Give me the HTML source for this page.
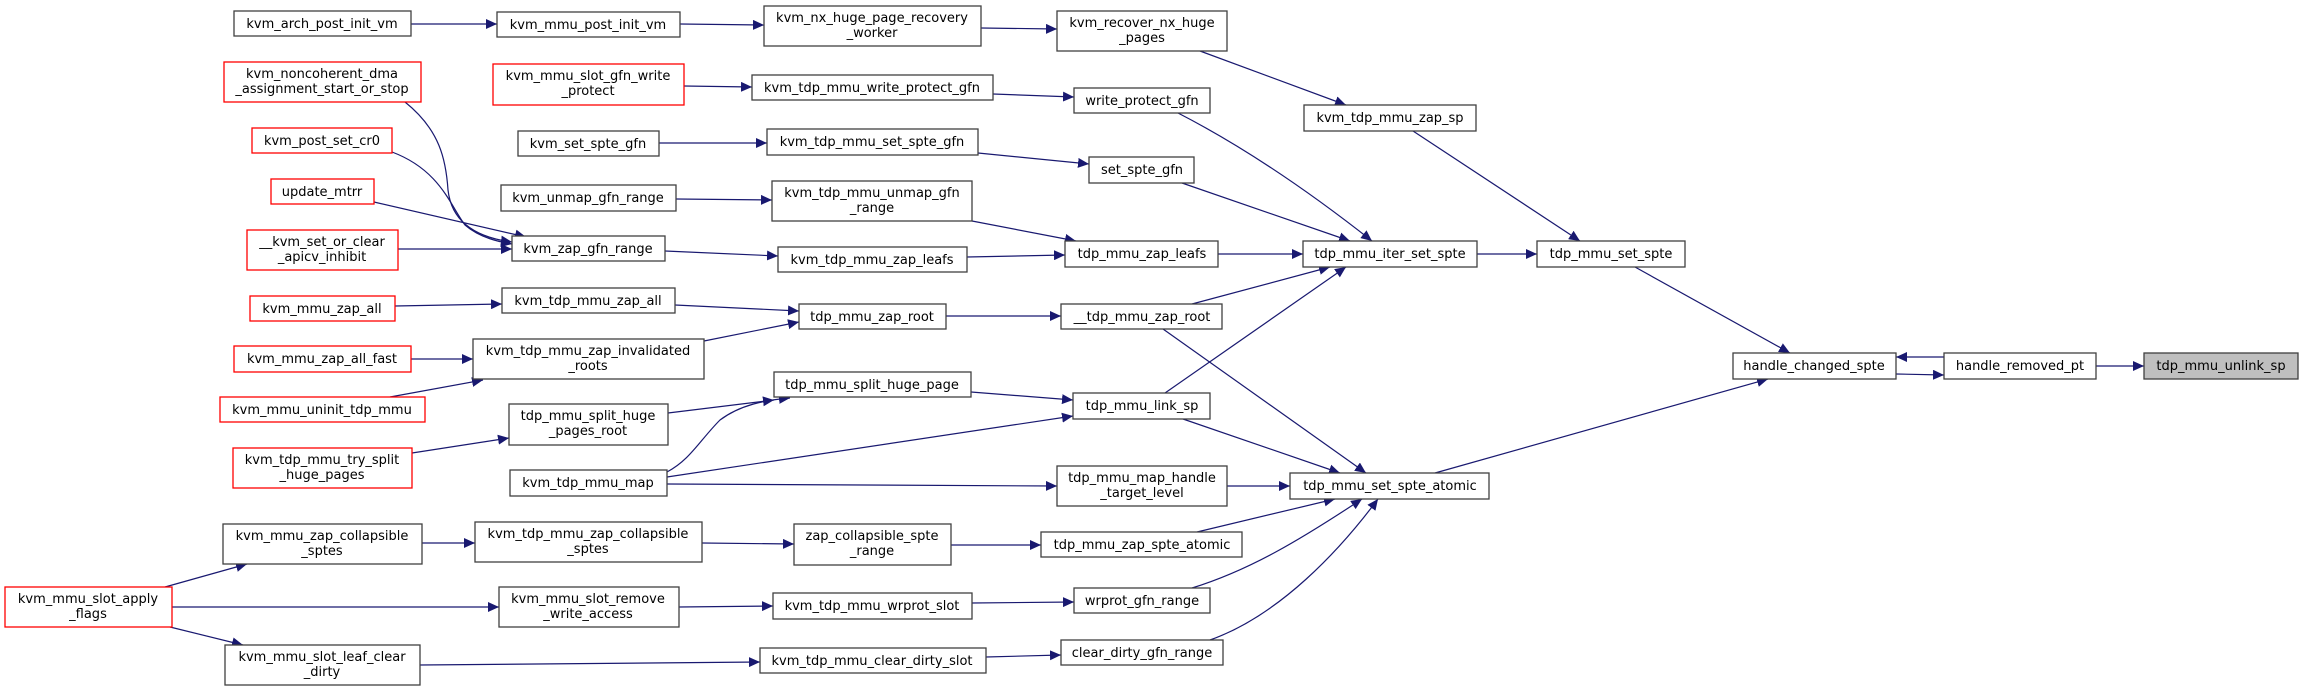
<!DOCTYPE html>
<html><head><meta charset="utf-8"><style>
html,body{margin:0;padding:0;background:#fff;width:2300px;height:692px;overflow:hidden}
svg text{font-family:"DejaVu Sans","Liberation Sans",sans-serif;font-size:13px;fill:#000;text-anchor:middle}
.n{fill:#fff;stroke:#404040;stroke-width:1.3}
.r{fill:#fff;stroke:#ff0000;stroke-width:1.3}
.g{fill:#bfbfbf;stroke:#404040;stroke-width:1.3}
.e{fill:none;stroke:#191970;stroke-width:1.2;marker-end:url(#a)}
</style></head><body>
<svg width="2300" height="692" viewBox="0 0 2300 692" xmlns="http://www.w3.org/2000/svg">
<defs><marker id="a" markerUnits="userSpaceOnUse" markerWidth="12" markerHeight="10" refX="11" refY="5" orient="auto"><path d="M0,0 L11,5 L0,10 Z" fill="#191970"/></marker></defs>

<!-- edges -->
<path class="e" d="M411,24 L497,24"/>
<path class="e" d="M680,24 L764,25"/>
<path class="e" d="M981,28 L1057,29"/>
<path class="e" d="M1200,51 L1346,105"/>
<path class="e" d="M1413,131 L1580,241"/>
<path class="e" d="M684,86 L752,87"/>
<path class="e" d="M993,94 L1074,97"/>
<path class="e" d="M1178,113 C1250,150 1320,200 1372,241"/>
<path class="e" d="M659,143 L767,143"/>
<path class="e" d="M978,153 L1089,164"/>
<path class="e" d="M1182,183 L1350,241"/>
<path class="e" d="M676,199 L772,200"/>
<path class="e" d="M972,221 L1076,241"/>
<path class="e" d="M665,251 L778,256"/>
<path class="e" d="M967,257 L1065,255"/>
<path class="e" d="M1218,254 L1303,254"/>
<path class="e" d="M1477,254 L1537,254"/>
<path class="e" d="M405,102 C440,130 446,160 448,190 C452,225 480,238 512,242"/>
<path class="e" d="M392,152 C440,170 450,205 465,225 C480,238 500,242 512,244"/>
<path class="e" d="M374,202 L526,237"/>
<path class="e" d="M398,249 L512,249"/>
<path class="e" d="M395,306 L502,304"/>
<path class="e" d="M675,305 L799,311"/>
<path class="e" d="M704,341 L799,322"/>
<path class="e" d="M946,316 L1061,316"/>
<path class="e" d="M1192,304 L1330,267"/>
<path class="e" d="M1163,329 L1366,473"/>
<path class="e" d="M1165,393 L1346,267"/>
<path class="e" d="M411,359 L473,359"/>
<path class="e" d="M390,397 L483,380"/>
<path class="e" d="M412,453 L509,438"/>
<path class="e" d="M668,413 L774,400"/>
<path class="e" d="M667,472 C690,460 700,440 720,420 C740,405 765,400 790,398"/>
<path class="e" d="M667,477 L1073,416"/>
<path class="e" d="M667,484 L1057,486"/>
<path class="e" d="M971,392 L1073,400"/>
<path class="e" d="M1183,419 L1340,473"/>
<path class="e" d="M1227,486 L1290,486"/>
<path class="e" d="M1435,473 L1768,379"/>
<path class="e" d="M1635,267 L1790,353"/>
<path class="e" d="M1896,374 L1944,375"/>
<path class="e" d="M1944,357 L1896,357"/>
<path class="e" d="M2096,366 L2144,366"/>
<path class="e" d="M422,543 L475,543"/>
<path class="e" d="M702,543 L794,544"/>
<path class="e" d="M951,545 L1041,545"/>
<path class="e" d="M1197,532 L1335,499"/>
<path class="e" d="M165,587 L247,564"/>
<path class="e" d="M172,607 L499,607"/>
<path class="e" d="M170,627 L243,645"/>
<path class="e" d="M679,607 L773,606"/>
<path class="e" d="M972,603 L1074,602"/>
<path class="e" d="M1192,588 C1250,570 1300,540 1362,499"/>
<path class="e" d="M420,665 L760,662"/>
<path class="e" d="M986,657 L1061,655"/>
<path class="e" d="M1210,640 C1280,615 1340,550 1378,499"/>

<!-- nodes -->
<rect class="n" x="234" y="11" width="177" height="25"/><text x="322" y="28">kvm_arch_post_init_vm</text>
<rect class="n" x="497" y="12" width="183" height="25"/><text x="588" y="29">kvm_mmu_post_init_vm</text>
<rect class="n" x="764" y="6" width="217" height="40"/><text x="872" y="22">kvm_nx_huge_page_recovery</text><text x="872" y="37">_worker</text>
<rect class="n" x="1057" y="11" width="170" height="40"/><text x="1142" y="27">kvm_recover_nx_huge</text><text x="1142" y="42">_pages</text>
<rect class="r" x="224" y="62" width="197" height="40"/><text x="322" y="78">kvm_noncoherent_dma</text><text x="322" y="93">_assignment_start_or_stop</text>
<rect class="r" x="493" y="64" width="191" height="41"/><text x="588" y="80">kvm_mmu_slot_gfn_write</text><text x="588" y="95">_protect</text>
<rect class="n" x="752" y="75" width="241" height="25"/><text x="872" y="92">kvm_tdp_mmu_write_protect_gfn</text>
<rect class="n" x="1074" y="88" width="136" height="25"/><text x="1142" y="105">write_protect_gfn</text>
<rect class="n" x="1304" y="105" width="172" height="26"/><text x="1390" y="122">kvm_tdp_mmu_zap_sp</text>
<rect class="r" x="252" y="128" width="140" height="25"/><text x="322" y="145">kvm_post_set_cr0</text>
<rect class="n" x="518" y="131" width="141" height="25"/><text x="588" y="148">kvm_set_spte_gfn</text>
<rect class="n" x="767" y="129" width="211" height="26"/><text x="872" y="146">kvm_tdp_mmu_set_spte_gfn</text>
<rect class="n" x="1089" y="157" width="105" height="26"/><text x="1142" y="174">set_spte_gfn</text>
<rect class="r" x="271" y="179" width="103" height="25"/><text x="322" y="196">update_mtrr</text>
<rect class="n" x="501" y="185" width="175" height="26"/><text x="588" y="202">kvm_unmap_gfn_range</text>
<rect class="n" x="772" y="181" width="200" height="40"/><text x="872" y="197">kvm_tdp_mmu_unmap_gfn</text><text x="872" y="212">_range</text>
<rect class="r" x="247" y="230" width="151" height="40"/><text x="322" y="246">__kvm_set_or_clear</text><text x="322" y="261">_apicv_inhibit</text>
<rect class="n" x="512" y="236" width="153" height="25"/><text x="588" y="253">kvm_zap_gfn_range</text>
<rect class="n" x="778" y="247" width="189" height="25"/><text x="872" y="264">kvm_tdp_mmu_zap_leafs</text>
<rect class="n" x="1065" y="241" width="153" height="26"/><text x="1142" y="258">tdp_mmu_zap_leafs</text>
<rect class="n" x="1303" y="241" width="174" height="26"/><text x="1390" y="258">tdp_mmu_iter_set_spte</text>
<rect class="n" x="1537" y="241" width="148" height="26"/><text x="1611" y="258">tdp_mmu_set_spte</text>
<rect class="r" x="250" y="296" width="145" height="25"/><text x="322" y="313">kvm_mmu_zap_all</text>
<rect class="n" x="502" y="288" width="173" height="25"/><text x="588" y="305">kvm_tdp_mmu_zap_all</text>
<rect class="n" x="799" y="304" width="147" height="25"/><text x="872" y="321">tdp_mmu_zap_root</text>
<rect class="n" x="1061" y="304" width="161" height="25"/><text x="1142" y="321">__tdp_mmu_zap_root</text>
<rect class="r" x="234" y="346" width="177" height="26"/><text x="322" y="363">kvm_mmu_zap_all_fast</text>
<rect class="n" x="473" y="339" width="231" height="40"/><text x="588" y="355">kvm_tdp_mmu_zap_invalidated</text><text x="588" y="370">_roots</text>
<rect class="n" x="1733" y="353" width="163" height="26"/><text x="1814" y="370">handle_changed_spte</text>
<rect class="n" x="1944" y="353" width="152" height="26"/><text x="2020" y="370">handle_removed_pt</text>
<rect class="g" x="2144" y="353" width="154" height="26"/><text x="2221" y="370">tdp_mmu_unlink_sp</text>
<rect class="n" x="774" y="372" width="197" height="25"/><text x="872" y="389">tdp_mmu_split_huge_page</text>
<rect class="n" x="1073" y="393" width="137" height="26"/><text x="1142" y="410">tdp_mmu_link_sp</text>
<rect class="r" x="220" y="397" width="205" height="25"/><text x="322" y="414">kvm_mmu_uninit_tdp_mmu</text>
<rect class="n" x="509" y="404" width="159" height="41"/><text x="588" y="420">tdp_mmu_split_huge</text><text x="588" y="435">_pages_root</text>
<rect class="r" x="233" y="448" width="179" height="40"/><text x="322" y="464">kvm_tdp_mmu_try_split</text><text x="322" y="479">_huge_pages</text>
<rect class="n" x="510" y="470" width="157" height="26"/><text x="588" y="487">kvm_tdp_mmu_map</text>
<rect class="n" x="1057" y="466" width="170" height="40"/><text x="1142" y="482">tdp_mmu_map_handle</text><text x="1142" y="497">_target_level</text>
<rect class="n" x="1290" y="473" width="199" height="26"/><text x="1390" y="490">tdp_mmu_set_spte_atomic</text>
<rect class="n" x="223" y="524" width="199" height="40"/><text x="322" y="540">kvm_mmu_zap_collapsible</text><text x="322" y="555">_sptes</text>
<rect class="n" x="475" y="522" width="227" height="40"/><text x="588" y="538">kvm_tdp_mmu_zap_collapsible</text><text x="588" y="553">_sptes</text>
<rect class="n" x="794" y="524" width="157" height="41"/><text x="872" y="540">zap_collapsible_spte</text><text x="872" y="555">_range</text>
<rect class="n" x="1041" y="532" width="201" height="25"/><text x="1142" y="549">tdp_mmu_zap_spte_atomic</text>
<rect class="r" x="5" y="587" width="167" height="40"/><text x="88" y="603">kvm_mmu_slot_apply</text><text x="88" y="618">_flags</text>
<rect class="n" x="499" y="587" width="180" height="40"/><text x="588" y="603">kvm_mmu_slot_remove</text><text x="588" y="618">_write_access</text>
<rect class="n" x="773" y="593" width="199" height="26"/><text x="872" y="610">kvm_tdp_mmu_wrprot_slot</text>
<rect class="n" x="1074" y="588" width="136" height="25"/><text x="1142" y="605">wrprot_gfn_range</text>
<rect class="n" x="225" y="645" width="195" height="40"/><text x="322" y="661">kvm_mmu_slot_leaf_clear</text><text x="322" y="676">_dirty</text>
<rect class="n" x="760" y="648" width="226" height="25"/><text x="872" y="665">kvm_tdp_mmu_clear_dirty_slot</text>
<rect class="n" x="1061" y="640" width="162" height="25"/><text x="1142" y="657">clear_dirty_gfn_range</text>
</svg>
</body></html>
